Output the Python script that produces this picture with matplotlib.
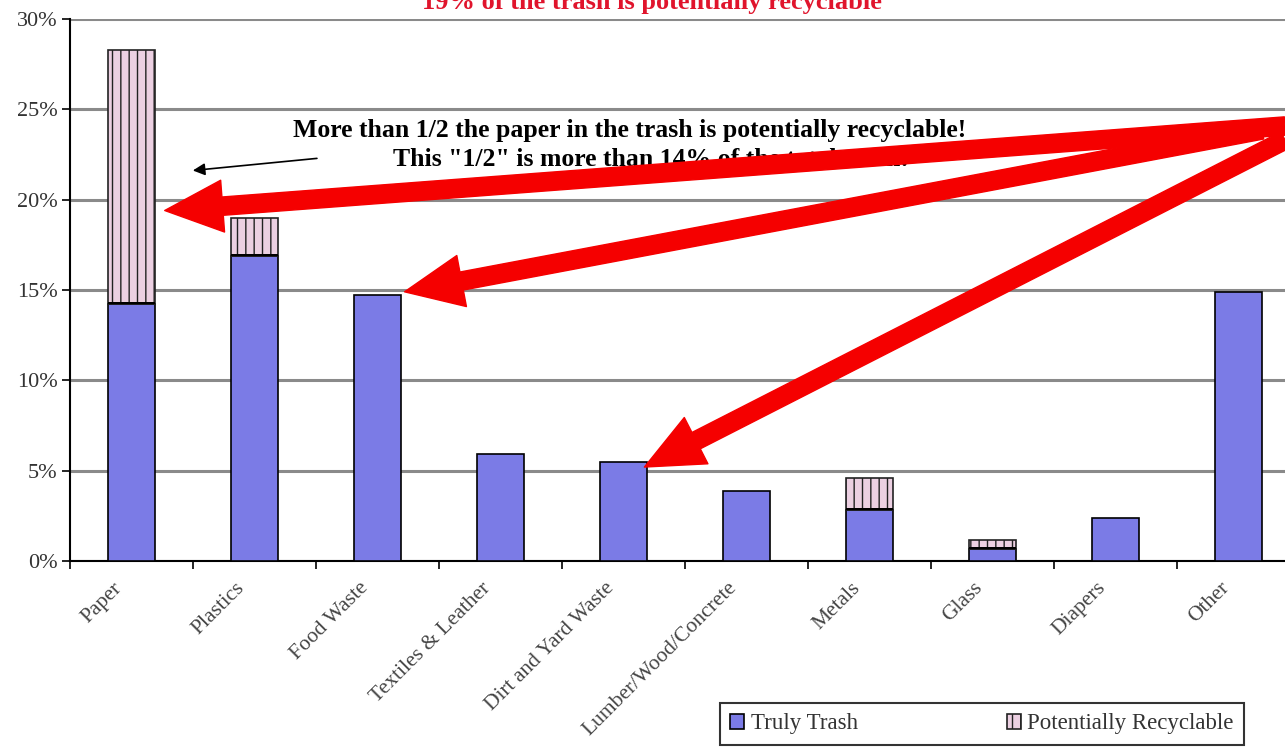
import numpy as np
import matplotlib.pyplot as plt

categories = ['Paper', 'Plastics', 'Food Waste', 'Textiles & Leather', 'Dirt and Yard Waste',
              'Lumber/Wood/Concrete', 'Metals', 'Glass', 'Diapers', 'Other']
truly_trash = [14.2, 16.9, 14.7, 5.9, 5.5, 3.9, 2.8, 0.65, 2.4, 14.9]
recyclable = [14.1, 2.1, 0.0, 0.0, 0.0, 0.0, 1.8, 0.5, 0.0, 0.0]
yticks = [0, 5, 10, 15, 20, 25, 30]

plt.rcParams['font.family'] = ['Liberation Serif', 'DejaVu Serif']
plt.rcParams['hatch.color'] = '#cfa9c3'
plt.rcParams['hatch.linewidth'] = 1.0

fig = plt.figure(figsize=(12.85, 7.56), dpi=100)
ax = fig.add_axes([70 / 1285, 1 - 561 / 756, 1230 / 1285, 542 / 756])

x = np.arange(len(categories))
ax.bar(x, truly_trash, width=0.39, color='#7b7be6', edgecolor='black', linewidth=1.2,
       label='Truly Trash', zorder=3)
rec = np.array(recyclable)
mask = rec > 0
ax.bar(x[mask], rec[mask], width=0.39, bottom=np.array(truly_trash)[mask], color='#ecd0e2',
       edgecolor='#222222', linewidth=1.2, hatch='||', label='Potentially Recyclable', zorder=3)
# black line where the two parts meet
ax.bar(x[mask], 0.12, width=0.39, bottom=np.array(truly_trash)[mask], color='black', zorder=4)

ax.set_xlim(-0.5, 9.5)
ax.set_ylim(0, 30)
ax.set_yticks(yticks)
ax.set_yticklabels([f'{v}%' for v in yticks], fontsize=16, color='#333333')
ax.set_xticks(np.arange(-0.5, 10, 1))
ax.set_xticklabels([])
ax.tick_params(axis='x', length=6, direction='out', width=1.2)
ax.tick_params(axis='y', length=6, direction='out', width=1.2, pad=3)
for i, name in enumerate(categories):
    ax.text(i - 0.1, -0.045, name, transform=ax.get_xaxis_transform(), rotation=45,
            ha='right', va='center', rotation_mode='anchor', fontsize=15.5, color='#444444')
ax.yaxis.grid(True, color='#8a8a8a', linewidth=2.2, zorder=0)
ax.set_axisbelow(True)
for s in ['top', 'right']:
    ax.spines[s].set_visible(False)
ax.spines['left'].set_linewidth(1.5)
ax.spines['bottom'].set_linewidth(1.5)

fig.text(652 / 1285, 1 - 9 / 756, '19% of the trash is potentially recyclable',
         color='#e0142c', fontsize=19, fontweight='bold', ha='center', va='baseline')

ax.text(4.05, 23.85, 'More than 1/2 the paper in the trash is potentially recyclable!',
        fontsize=18.5, fontweight='bold', ha='center', va='center', zorder=5)
ax.text(4.22, 22.2, 'This "1/2" is more than 14% of the total trash!',
        fontsize=18.5, fontweight='bold', ha='center', va='center', zorder=5)
ax.annotate('', xy=(0.476, 21.6), xytext=(1.53, 22.3),
            arrowprops=dict(arrowstyle='-|>', color='black', lw=1.2, mutation_scale=18), zorder=5)

tails = [(1285, 756 - 126), (1262, 756 - 130), (1285, 756 - 140)]
heads = [(0.27, 19.4), (2.22, 14.9), (4.17, 5.2)]
for t, h in zip(tails, heads):
    ax.annotate('', xy=h, xycoords='data', xytext=t, textcoords='figure pixels',
                arrowprops=dict(arrowstyle='simple,head_length=1.9,head_width=1.7,tail_width=0.6',
                                color='#f50000', mutation_scale=22, shrinkA=0, shrinkB=0),
                zorder=6, annotation_clip=False)

leg = fig.legend(loc='center', bbox_to_anchor=(982 / 1285, 1 - 724 / 756), ncol=2,
                 fontsize=16.5, frameon=True, fancybox=False, edgecolor='black',
                 handlelength=0.6, handleheight=0.6, handletextpad=0.3, columnspacing=6.5,
                 borderpad=0.45, borderaxespad=0)
leg.get_frame().set_linewidth(1.5)
for txt in leg.get_texts():
    txt.set_color('#333333')

fig.savefig('out.png', dpi=100)
